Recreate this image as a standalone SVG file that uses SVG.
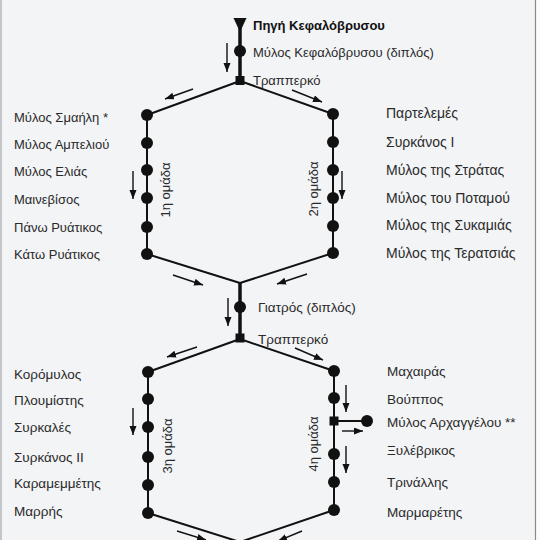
<svg xmlns="http://www.w3.org/2000/svg" width="540" height="540" viewBox="0 0 540 540">
<defs>
<marker id="ah" markerUnits="userSpaceOnUse" markerWidth="10" markerHeight="8" refX="9" refY="3.5" orient="auto">
<path d="M0,0 L9,3.5 L0,7 z" fill="#111"/>
</marker>
<style>
text{font-family:"Liberation Sans",Arial,sans-serif;font-size:13px;fill:#2a2a2a}
.b{font-weight:bold;fill:#111}
.r{font-size:14px}
.l2{font-size:13.5px}
.ln{stroke:#111;stroke-width:2;fill:none}
.tr{stroke:#111;stroke-width:3.5;fill:none}
.ar{stroke:#111;stroke-width:1.4;fill:none;marker-end:url(#ah)}
.m{fill:#111}
</style>
</defs>
<rect width="540" height="540" fill="#f3f4f6"/>
<rect x="536" y="0" width="4" height="540" fill="#fbfbfc"/>
<line x1="535.5" y1="0" x2="535.5" y2="540" stroke="#8a8a8a" stroke-width="1.2"/>
<line x1="1" y1="0" x2="1" y2="540" stroke="#c4c6ca" stroke-width="2"/>

<g id="connectors">
<line class="tr" x1="240" y1="22" x2="240" y2="80"/>
<line class="ln" x1="240" y1="81" x2="147" y2="115"/>
<line class="ln" x1="240" y1="81" x2="333" y2="114"/>
<line class="ln" x1="147" y1="115" x2="147" y2="254"/>
<line class="ln" x1="333" y1="114" x2="333" y2="253"/>
<line class="ln" x1="147" y1="254" x2="240" y2="283"/>
<line class="ln" x1="333" y1="253" x2="240" y2="283"/>
<line class="tr" x1="240" y1="283" x2="240" y2="338"/>
<line class="ln" x1="240" y1="339" x2="148" y2="372"/>
<line class="ln" x1="240" y1="339" x2="334" y2="371"/>
<line class="ln" x1="148" y1="372" x2="148" y2="513"/>
<line class="ln" x1="334" y1="371" x2="334" y2="510"/>
<line class="ln" x1="334" y1="421" x2="367" y2="421"/>
<line class="ln" x1="148" y1="513" x2="240" y2="542"/>
<line class="ln" x1="334" y1="510" x2="240" y2="542"/>
<line class="ar" x1="227" y1="43" x2="227" y2="72"/>
<line class="ar" x1="193" y1="89" x2="165" y2="99"/>
<line class="ar" x1="292" y1="90" x2="322" y2="102"/>
<line class="ar" x1="133" y1="171" x2="133" y2="199"/>
<line class="ar" x1="342" y1="171" x2="342" y2="199"/>
<line class="ar" x1="173" y1="275" x2="203" y2="285"/>
<line class="ar" x1="307" y1="274" x2="277" y2="284"/>
<line class="ar" x1="228" y1="298" x2="228" y2="326"/>
<line class="ar" x1="197" y1="347" x2="167" y2="357"/>
<line class="ar" x1="295" y1="348" x2="323" y2="360"/>
<line class="ar" x1="133" y1="408" x2="133" y2="435"/>
<line class="ar" x1="346" y1="385" x2="346" y2="412"/>
<line class="ar" x1="342" y1="431" x2="363" y2="431"/>
<line class="ar" x1="346" y1="446" x2="346" y2="473"/>
<line class="ar" x1="177" y1="531" x2="206" y2="540"/>
<line class="ar" x1="302" y1="531" x2="278" y2="541"/>
</g>

<g id="source"><path class="m" d="M233.5,18 L246.5,18 L240,32 z"/><text class="b" x="253" y="30">Πηγή Κεφαλόβρυσου</text></g>
<g id="kefalovrysou"><circle class="m" cx="240" cy="51" r="6"/><text x="253" y="57">Μύλος Κεφαλόβρυσου (διπλός)</text></g>
<g id="trapperko1"><rect class="m" x="235.5" y="76" width="9" height="9"/><text x="253" y="85">Τραππερκό</text></g>

<g id="smaili"><circle class="m" cx="147" cy="115" r="6"/><text x="14" y="122">Μύλος Σμαήλη *</text></g>
<g id="ampeliou"><circle class="m" cx="147" cy="143" r="6"/><text x="14" y="149">Μύλος Αμπελιού</text></g>
<g id="elias"><circle class="m" cx="147" cy="170" r="6"/><text x="14" y="176">Μύλος Ελιάς</text></g>
<g id="mainevisos"><circle class="m" cx="147" cy="198" r="6"/><text x="14" y="204">Μαινεβίσος</text></g>
<g id="pano"><circle class="m" cx="147" cy="227" r="6"/><text x="14" y="232">Πάνω Ρυάτικος</text></g>
<g id="kato"><circle class="m" cx="147" cy="254" r="6"/><text x="14" y="259">Κάτω Ρυάτικος</text></g>
<g id="group1"><text transform="translate(170,190) rotate(-90)" text-anchor="middle">1η ομάδα</text></g>

<g id="partelemes"><circle class="m" cx="333" cy="114" r="6"/><text class="r" x="386" y="118">Παρτελεμές</text></g>
<g id="syrkanos1"><circle class="m" cx="333" cy="142" r="6"/><text class="r" x="386" y="147">Συρκάνος Ι</text></g>
<g id="stratas"><circle class="m" cx="333" cy="170" r="6"/><text class="r" x="386" y="175">Μύλος της Στράτας</text></g>
<g id="potamou"><circle class="m" cx="333" cy="198" r="6"/><text class="r" x="386" y="203">Μύλος του Ποταμού</text></g>
<g id="sykamias"><circle class="m" cx="333" cy="226" r="6"/><text class="r" x="386" y="230">Μύλος της Συκαμιάς</text></g>
<g id="teratsias"><circle class="m" cx="333" cy="253" r="6"/><text class="r" x="386" y="258">Μύλος της Τερατσιάς</text></g>
<g id="group2"><text transform="translate(318,189) rotate(-90)" text-anchor="middle">2η ομάδα</text></g>

<g id="giatros"><circle class="m" cx="240" cy="307" r="6"/><text class="l2" x="258" y="312">Γιατρός (διπλός)</text></g>
<g id="trapperko2"><rect class="m" x="235.5" y="333.5" width="9" height="9"/><text class="l2" x="258" y="344">Τραππερκό</text></g>

<g id="koromylos"><circle class="m" cx="148" cy="372" r="6"/><text class="l2" x="14" y="379">Κορόμυλος</text></g>
<g id="ploumistis"><circle class="m" cx="148" cy="399" r="6"/><text class="l2" x="14" y="405">Πλουμίστης</text></g>
<g id="syrkales"><circle class="m" cx="148" cy="427" r="6"/><text class="l2" x="14" y="432">Συρκαλές</text></g>
<g id="syrkanos2"><circle class="m" cx="148" cy="457" r="6"/><text class="l2" x="14" y="462">Συρκάνος ΙΙ</text></g>
<g id="karamemmetis"><circle class="m" cx="148" cy="485" r="6"/><text class="l2" x="14" y="488">Καραμεμμέτης</text></g>
<g id="marris"><circle class="m" cx="148" cy="513" r="6"/><text class="l2" x="14" y="516">Μαρρής</text></g>
<g id="group3"><text transform="translate(172,446) rotate(-90)" text-anchor="middle">3η ομάδα</text></g>

<g id="machairas"><circle class="m" cx="334" cy="371" r="6"/><text class="l2" x="387" y="376">Μαχαιράς</text></g>
<g id="vouppos"><circle class="m" cx="334" cy="398" r="6"/><text class="l2" x="387" y="404">Βούππος</text></g>
<g id="junction4"><rect class="m" x="329.5" y="416.5" width="9" height="9"/></g>
<g id="archangelou"><circle class="m" cx="367" cy="421" r="6"/><text class="l2" x="387" y="427">Μύλος Αρχαγγέλου **</text></g>
<g id="xylevrikos"><circle class="m" cx="334" cy="454" r="6"/><text class="l2" x="387" y="455">Ξυλέβρικος</text></g>
<g id="trinallis"><circle class="m" cx="334" cy="482" r="6"/><text class="l2" x="387" y="487">Τρινάλλης</text></g>
<g id="marmaretis"><circle class="m" cx="334" cy="510" r="6"/><text class="l2" x="387" y="517">Μαρμαρέτης</text></g>
<g id="group4"><text transform="translate(318,444) rotate(-90)" text-anchor="middle">4η ομάδα</text></g>
</svg>
